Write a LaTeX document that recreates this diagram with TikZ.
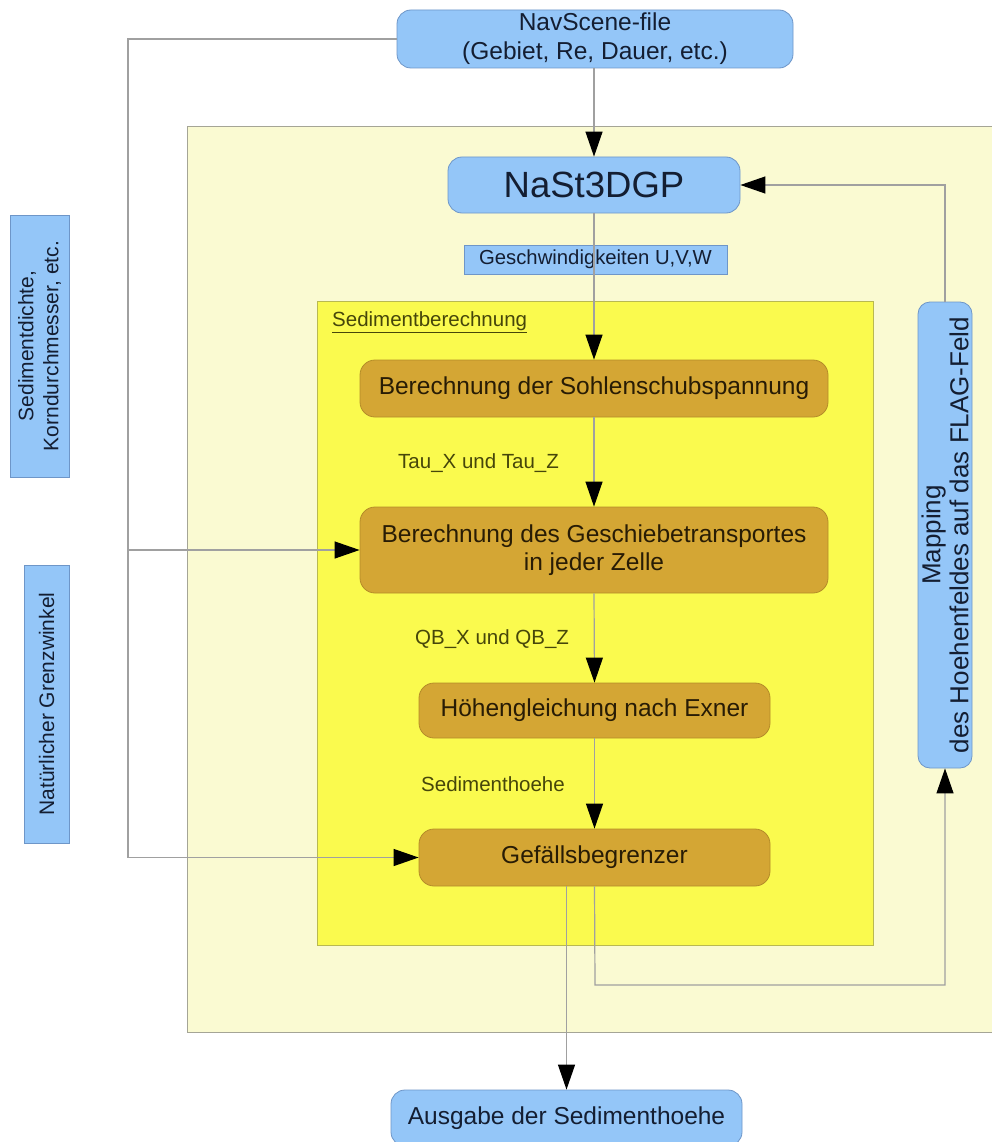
\documentclass[tikz,border=0pt]{standalone}
\usepackage{fontspec}
\setmainfont{Liberation Sans}
\usetikzlibrary{arrows.meta}
\definecolor{lblue}{RGB}{148,198,248}
\definecolor{blueborder}{RGB}{110,150,200}
\definecolor{brownfill}{RGB}{212,166,52}
\definecolor{brownborder}{RGB}{180,140,40}
\definecolor{yelfill}{RGB}{250,250,78}
\definecolor{yelborder}{RGB}{185,185,80}
\definecolor{lyelfill}{RGB}{250,250,210}
\definecolor{lyelborder}{RGB}{165,165,150}
\definecolor{linegray}{RGB}{160,160,160}
\definecolor{navytext}{RGB}{20,30,50}
\definecolor{browntext}{RGB}{40,28,5}
\definecolor{olivetext}{RGB}{70,70,10}
\newcommand{\fs}[2]{\fontsize{#1}{#2}\selectfont}
\tikzset{
  bluebox/.style={draw=blueborder, line width=0.8pt, fill=lblue, rounded corners=14pt,
    inner sep=0pt, align=center, text=navytext},
  brownbox/.style={draw=brownborder, line width=0.8pt, fill=brownfill, rounded corners=15pt,
    inner sep=0pt, align=center, text=browntext, font=\fs{24.5}{28.5}},
  flowlabel/.style={inner sep=0pt, anchor=west, text=olivetext, font=\fs{20.5}{24}},
  conn/.style={draw=linegray, line width=1.2pt},
  arr/.style={conn, -{Triangle[length=25pt,width=17pt,color=black]}},
}
\begin{document}
\begin{tikzpicture}[x=1pt,y=-1pt]
\useasboundingbox (0,0) rectangle (991,1142);
\fill[white] (0,0) rectangle (991,1142);

% containers
\draw[lyelborder, line width=0.8pt, fill=lyelfill] (187,126) rectangle (996,1032);
\draw[yelborder, line width=0.8pt, fill=yelfill] (317,301) rectangle (873,945);

% nodes
\node[bluebox, minimum width=396pt, minimum height=58pt, font=\fs{24.5}{29}] (nav) at (595,39)
  {NavScene-file\\(Gebiet, Re, Dauer, etc.)};
\node[bluebox, minimum width=292pt, minimum height=56pt, font=\fs{36.5}{40}] (nast) at (594,185) {NaSt3DGP};
\node[bluebox, rounded corners=0pt, minimum width=263pt, minimum height=29pt, font=\fs{20.3}{24}] (geschw) at (595.5,259.5)
  {Geschwindigkeiten U,V,W};
\node[flowlabel] (sedlab) at (332,322) {\underline{Sedimentberechnung}};
\node[brownbox, minimum width=468pt, minimum height=57pt] (b1) at (594,388.5) {Berechnung der Sohlenschubspannung};
\node[flowlabel] (tau) at (398,463) {Tau\_X und Tau\_Z};
\node[brownbox, minimum width=468pt, minimum height=86pt] (b2) at (594,550) {Berechnung des Geschiebetransportes\\in jeder Zelle};
\node[flowlabel] (qb) at (415,639) {QB\_X und QB\_Z};
\node[brownbox, minimum width=351pt, minimum height=55pt] (b3) at (594.5,710.5) {Höhengleichung nach Exner};
\node[flowlabel] (sh) at (421,784) {Sedimenthoehe};
\node[brownbox, minimum width=351pt, minimum height=57pt] (b4) at (594.5,857.5) {Gefällsbegrenzer};
\node[bluebox, minimum width=351pt, minimum height=56pt, font=\fs{24.5}{29}] (aus) at (566.5,1118) {Ausgabe der Sedimenthoehe};
\node[bluebox, rounded corners=12pt, rotate=90, minimum width=466pt, minimum height=54pt, font=\fs{26}{28}] (map) at (945,535)
  {Mapping\\des Hoehenfeldes auf das FLAG-Feld};
\node[bluebox, rounded corners=0pt, rotate=90, minimum width=262pt, minimum height=59pt, font=\fs{21}{25}] (left1) at (39.5,346)
  {Sedimentdichte,\\Korndurchmesser, etc.};
\node[bluebox, rounded corners=0pt, rotate=90, minimum width=278pt, minimum height=45pt, font=\fs{21}{25}] (left2) at (46.5,704)
  {Natürlicher Grenzwinkel};

% connectors
\coordinate (jl) at (128,550);
\coordinate (lb) at (595,985);
\draw[arr] (nav.west) -| (jl) |- (b4.west);
\draw[arr] (jl) -- (b2.west);
\draw[arr] (nav.south -| nast.north) -- (nast.north);
\draw[arr] (nast.south) -- (b1.north);
\draw[arr] (b1.south) -- (b2.north);
\draw[arr] (b2.south) -- (b3.north);
\draw[arr] (b3.south) -- (b4.north);
\draw[arr] (b4.south -| aus.north) -- (aus.north);
\draw[arr] (b4.south) -- (lb) -| (map.west);
\draw[arr] (map.east) |- (nast.east);
\end{tikzpicture}
\end{document}
